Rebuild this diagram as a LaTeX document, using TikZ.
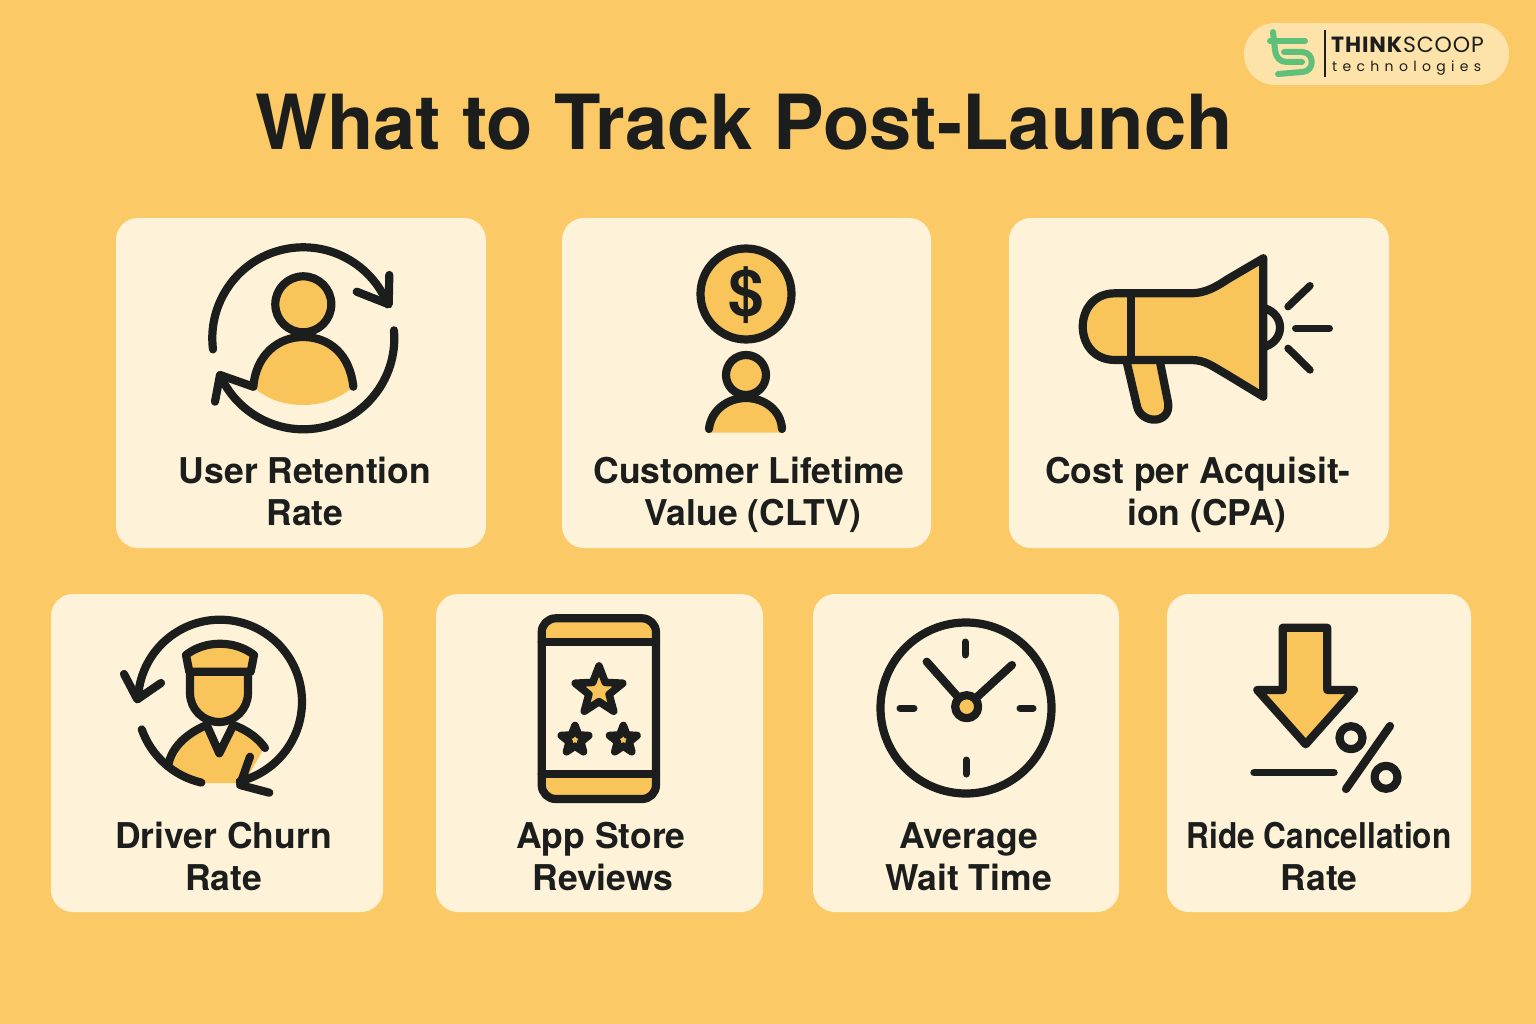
\documentclass[tikz,border=0pt]{standalone}
\usepackage{fontspec}
\usetikzlibrary{shapes.geometric}
\setmainfont{TeX Gyre Heros}
\newfontfamily\logofont{Poppins}
\definecolor{bgc}{HTML}{FBC965}
\definecolor{cardc}{HTML}{FEF3D8}
\definecolor{ink}{HTML}{1B1E1C}
\definecolor{gold}{HTML}{F9C55B}
\definecolor{pillc}{HTML}{FDE3A9}
\definecolor{leaf}{HTML}{5FC07A}
\tikzset{
  card/.style={fill=cardc,draw=none,rounded corners=22pt},
  ic/.style={draw=ink,line width=8.2pt,line cap=round,line join=round},
  icf/.style={ic,fill=gold},
  gf/.style={fill=gold,draw=none},
  lab/.style={anchor=base,align=center,text=ink,font=\bfseries\fontsize{35.5}{42}\selectfont},
  starb/.style={star,star points=5,star point ratio=2.35,inner sep=0pt,draw=ink,fill=gold,line width=7.6pt,line join=round},
  lg/.style={draw=leaf,line width=6pt,line cap=round,line join=round}
}
\begin{document}
\begin{tikzpicture}[x=1pt,y=-1pt]
\useasboundingbox (0,0) rectangle (1536,1024);
\fill[bgc] (0,0) rectangle (1536,1024);
% logo
\fill[pillc,rounded corners=31pt] (1244,23) rectangle (1509,85);
\draw[lg] (1273,32) -- (1275,50) .. controls (1276,58) and (1280,62) .. (1287,62) -- (1302,62);
\draw[lg] (1270,41) -- (1305,41);
\draw[lg] (1284,52) -- (1302,52) .. controls (1315,52) and (1315,72) .. (1302,72) -- (1278,74);
\draw[ink,line width=1.6pt] (1325,30) -- (1325,77);
\node[anchor=base west,inner sep=0pt,text=ink,font=\logofont\fontsize{22}{24}\selectfont] (logoa) at (1331,53) {\addfontfeature{LetterSpace=4}\textbf{THINK}SCOOP};
\node[anchor=base west,inner sep=0pt,text=ink,font=\logofont\fontsize{14}{16}\selectfont] (logob) at (1332,72) {\addfontfeature{LetterSpace=38}technologies};
% title
\node[anchor=base,inner sep=0pt,text=ink,font=\bfseries\fontsize{76}{80}\selectfont] (title) at (744,150) {What to Track Post-Launch};
% cards
\path[card] (116,218) rectangle (486,548);
\path[card] (562,218) rectangle (931,548);
\path[card] (1009,218) rectangle (1389,548);
\path[card] (51,594) rectangle (383,912);
\path[card] (436,594) rectangle (763,912);
\path[card] (813,594) rectangle (1119,912);
\path[card] (1167,594) rectangle (1471,912);
% labels
\node[lab] (l1) at (305,525) {User Retention\\Rate};
\node[lab] (l2) at (749,525) {Customer Lifetime\\\hspace*{8pt}Value (CLTV)};
\node[lab] (l3) at (1198,525) {Cost per Acquisit-\\\hspace*{18pt}ion (CPA)};
\node[lab] (l4) at (223.5,890) {Driver Churn\\Rate};
\node[lab] (l5) at (601,890) {App Store\\\hspace*{4pt}Reviews};
\node[lab] (l6) at (968.5,890) {Average\\Wait Time};
\node[lab] (l7) at (1319,890) {\scalebox{0.89}[1]{Ride Cancellation}\\Rate};
% icon 1: retention
\path[gf] (253,387) .. controls (256,355) and (278,337) .. (303,337) .. controls (330,337) and (350,355) .. (353,387) .. controls (338,400) and (320,405) .. (303,405) .. controls (285,405) and (268,400) .. (253,387) -- cycle;
\draw[ic] (253.3,386.7) .. controls (256,355) and (278,337) .. (303,337) .. controls (330,337) and (350,355) .. (353.3,386.7);
\draw[icf] (303.3,304.3) circle[radius=28];
\draw[ic] (303.3,338.3) ++(173:91) arc[start angle=173,end angle=338,radius=91];
\draw[ic] (356.7,291.7) -- (388.7,304.3) -- (389.3,275);
\draw[ic] (303.3,338.3) ++(-5:91) arc[start angle=-5,end angle=156,radius=91];
\draw[ic] (215,401.7) -- (220,375) -- (253.3,386.7);
% icon 2: CLTV
\draw[icf] (746,294) circle[radius=45.5];
\node[text=ink,font=\bfseries\fontsize{64}{64}\selectfont,inner sep=0pt] (dollar) at (746,295) {\$};
\path[gf] (709,432.5) .. controls (711,410) and (728,398) .. (746,398) .. controls (764,398) and (781,410) .. (782,432.5) -- cycle;
\draw[ic] (709,429) .. controls (711,410) and (728,398) .. (746,398) .. controls (764,398) and (781,410) .. (782,429);
\draw[icf] (746,375) circle[radius=20];
% icon 3: megaphone
\draw[icf] (1126.7,362) -- (1136.7,405) .. controls (1140,425) and (1172,425) .. (1168,402) -- (1160,362);
\draw[ic] (1265,308.3) .. controls (1285,315) and (1285,340) .. (1265,346.7);
\draw[icf] (1115,293.3) -- (1191,293.3) .. controls (1205,293.3) and (1216,287) .. (1228,279) -- (1263.3,258.3) -- (1263.3,396.7) -- (1226,374) .. controls (1212,366) and (1205,360) .. (1191,360) -- (1115,360) .. controls (1072,360) and (1072,293.3) .. (1115,293.3) -- cycle;
\draw[ic] (1131,293.3) -- (1131,360);
\draw[ic,line width=7.4pt] (1288,306.7) -- (1310,285.7);
\draw[ic,line width=7.4pt] (1295.7,328.3) -- (1329.3,328.3);
\draw[ic,line width=7.4pt] (1288,348.3) -- (1310,370);
% icon 4: driver
\path[gf] (168,765) .. controls (172,745) and (190,732) .. (207,725) -- (219,753) -- (233,725) .. controls (245,730) and (258,740) .. (263,750) -- (244,783) -- (200,783) .. controls (190,780) and (178,773) .. (168,765) -- cycle;
\draw[ic] (168.3,765) .. controls (172,745) and (190,732) .. (206.7,725) -- (219.3,753.3) -- (233.3,725) .. controls (247,730) and (258,738) .. (265,748);
\draw[icf] (190,671.7) -- (190,693) arc[start angle=180,end angle=0,radius=29] -- (248,671.7);
\draw[icf] (186,655) .. controls (205,640) and (235,640) .. (254,655) -- (250.7,671.7) -- (189.3,671.7) -- cycle;
\draw[ic] (220,701.7) ++(182:82) arc[start angle=182,end angle=436,radius=82];
\draw[ic] (124,674) -- (137.3,699.3) -- (161,683);
\draw[ic] (250,756.7) -- (240,785) -- (269.3,792.7);
\draw[ic] (220,701.7) ++(160.5:83) arc[start angle=160.5,end angle=103,radius=83];
% icon 5: phone
\path[gf] (541.7,642.3) -- (541.7,632) .. controls (541.7,624) and (548,618.3) .. (556,618.3) -- (642,618.3) .. controls (650,618.3) and (656,624) .. (656,632) -- (656,642.3) -- cycle;
\path[gf] (541.7,774) -- (541.7,785) .. controls (541.7,793) and (548,799) .. (556,799) -- (642,799) .. controls (650,799) and (656,793) .. (656,785) -- (656,774) -- cycle;
\draw[ic,rounded corners=14pt] (541.7,618.3) rectangle (656,799);
\draw[ic] (541.7,642.3) -- (656,642.3);
\draw[ic] (541.7,774) -- (656,774);
\node[starb,minimum size=50pt] (star1) at (599,691) {};
\node[starb,minimum size=29pt] (star2) at (575,740) {};
\node[starb,minimum size=29pt] (star3) at (623.3,740) {};
% icon 6: clock
\draw[ic] (966,708) circle[radius=85.5];
\draw[ic,line width=7pt] (965,642) -- (965,655);
\draw[ic,line width=7pt] (966,760) -- (966,774);
\draw[ic,line width=7pt] (900,708) -- (914,708);
\draw[ic,line width=7pt] (1020,708) -- (1033,708);
\draw[ic] (926.7,661.7) -- (958,697);
\draw[ic] (1012,665) -- (976,698);
\draw[icf] (966.7,706.7) circle[radius=11.5];
% icon 7: cancellation
\draw[icf] (1282.7,627.7) -- (1327.3,627.7) -- (1327.3,690) -- (1354,690) -- (1305.7,744.3) -- (1257.3,690) -- (1282.7,690) -- cycle;
\draw[ic,line width=7.4pt] (1254,772.7) -- (1334,772.7);
\draw[ic] (1351,737.7) circle[radius=11.5];
\draw[ic] (1386,777.3) circle[radius=11.5];
\draw[ic] (1390,726) -- (1346,789);
\end{tikzpicture}
\end{document}
